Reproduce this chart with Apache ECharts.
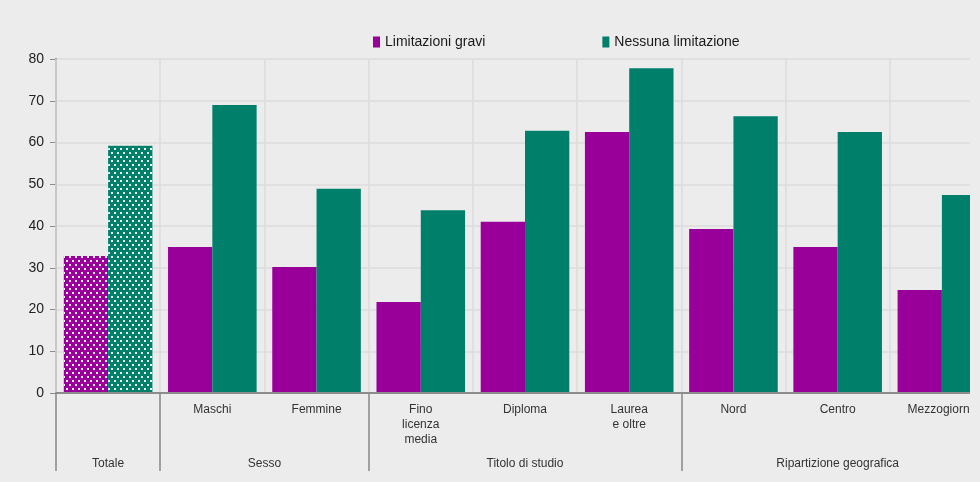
<!DOCTYPE html>
<html>
<head>
<meta charset="utf-8">
<script src="https://cdn.jsdelivr.net/npm/echarts@6/dist/echarts.min.js"></script>
<style>
  html, body { margin: 0; padding: 0; background: #ececec; }
  #wrap { width: 980px; height: 482px; overflow: hidden; background: #ececec; }
  #chart { width: 970px; height: 482px; }
</style>
</head>
<body>
<div id="wrap"><div id="chart"></div></div>
<script>
// ---- data ----
var categories = ['', 'Maschi', 'Femmine', 'Fino\nlicenza\nmedia', 'Diploma', 'Laurea\ne oltre', 'Nord', 'Centro', 'Mezzogiorno'];
var groupNames = ['Totale', 'Sesso', 'Titolo di studio', 'Ripartizione geografica'];
var groupSizes = [1, 2, 3, 3];
var seriesNames = ['Limitazioni gravi', 'Nessuna limitazione'];
var limitazioniGravi = [32.8, 35.0, 30.2, 21.8, 41.0, 62.5, 39.3, 35.0, 24.7];
var nessunaLimitazione = [59.2, 69.0, 48.9, 43.8, 62.8, 77.8, 66.3, 62.5, 47.4];
var yTicks = [0, 10, 20, 30, 40, 50, 60, 70, 80];
var dottedCategories = [0]; // Totale is drawn with a dotted pattern

// ---- derived group structure ----
var groupBounds = [0];
var groupCenters = [];
(function () {
  var acc = 0;
  for (var i = 0; i < groupSizes.length; i++) {
    groupCenters.push(acc + groupSizes[i] / 2);
    acc += groupSizes[i];
    groupBounds.push(acc);
  }
})();

var FONT = "'Liberation Sans', Arial, sans-serif";
var PURPLE = '#990099';
var GREEN = '#00806a';

var decal = {
  symbol: 'rect',
  symbolSize: 1,
  color: 'rgba(255,255,255,0.92)',
  dashArrayX: [[2, 4], [0, 3, 2, 1]],
  dashArrayY: [2, 2],
  rotation: 0
};

function buildData(values) {
  return values.map(function (v, i) {
    if (dottedCategories.indexOf(i) >= 0) {
      return { value: v, itemStyle: { decal: decal } };
    }
    return v;
  });
}

var chart = echarts.init(document.getElementById('chart'), null, { renderer: 'canvas' });

var option = {
  backgroundColor: '#ececec',
  animation: false,
  textStyle: { fontFamily: FONT },
  legend: {
    left: 368,
    top: 30,
    itemWidth: 7,
    itemHeight: 11,
    itemGap: 117,
    icon: 'rect',
    textStyle: { fontFamily: FONT, fontSize: 14, color: '#1a1a1a' },
    data: seriesNames
  },
  grid: {
    left: 56,
    top: 59,
    bottom: 89,
    right: -24,
    containLabel: false,
    outerBoundsMode: 'none'
  },
  xAxis: [
    {
      type: 'category',
      data: categories,
      boundaryGap: true,
      axisLine: { show: true, lineStyle: { color: '#8c8c8c', width: 2 } },
      axisTick: { show: false },
      splitLine: { show: true, lineStyle: { color: '#dcdcdc', width: 1.5 } },
      axisLabel: {
        interval: 0,
        margin: 9,
        fontSize: 12,
        lineHeight: 15,
        color: '#333333',
        fontFamily: FONT
      },
      z: 3
    },
    {
      type: 'value',
      position: 'bottom',
      min: 0,
      max: groupBounds[groupBounds.length - 1],
      axisLine: { show: false },
      splitLine: { show: false },
      axisTick: {
        show: true,
        inside: false,
        length: 78,
        customValues: groupBounds.slice(0, groupBounds.length - 1),
        lineStyle: { color: '#a0a0a0', width: 2 }
      },
      axisLabel: {
        show: true,
        customValues: groupCenters,
        margin: 65,
        fontSize: 12,
        color: '#333333',
        fontFamily: FONT,
        formatter: function (v) {
          var idx = groupCenters.indexOf(v);
          return idx >= 0 ? groupNames[idx] : '';
        }
      }
    }
  ],
  yAxis: {
    type: 'value',
    min: yTicks[0],
    max: yTicks[yTicks.length - 1],
    interval: yTicks[1] - yTicks[0],
    axisLine: { show: true, lineStyle: { color: '#8c8c8c', width: 2 } },
    axisTick: { show: true, length: 6, lineStyle: { color: '#8c8c8c', width: 1 } },
    splitLine: { show: true, lineStyle: { color: '#dcdcdc', width: 1.5 } },
    axisLabel: { fontSize: 14, color: '#222222', margin: 12, fontFamily: FONT }
  },
  series: [
    {
      name: seriesNames[0],
      type: 'bar',
      xAxisIndex: 0,
      barGap: '0%',
      barCategoryGap: '15%',
      itemStyle: { color: PURPLE },
      data: buildData(limitazioniGravi)
    },
    {
      name: seriesNames[1],
      type: 'bar',
      xAxisIndex: 0,
      barGap: '0%',
      barCategoryGap: '15%',
      itemStyle: { color: GREEN },
      data: buildData(nessunaLimitazione)
    }
  ]
};

chart.setOption(option);
</script>
</body>
</html>
